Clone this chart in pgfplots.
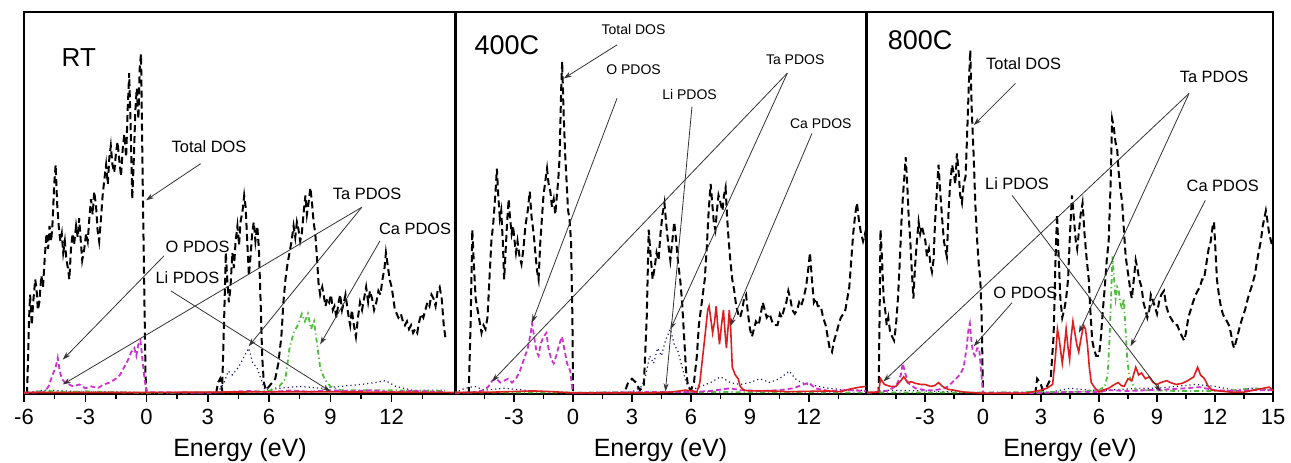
\documentclass[border=0pt]{standalone}
\usepackage{fontspec}
\setmainfont{Liberation Sans}
\usepackage{pgfplots}
\pgfplotsset{compat=1.18}
\usetikzlibrary{arrows.meta}

\definecolor{dosmag}{RGB}{204,51,204}
\definecolor{dosnavy}{RGB}{30,30,110}
\definecolor{dosgreen}{RGB}{80,190,60}
\definecolor{dosred}{RGB}{220,30,30}

\pgfplotsset{
  panel/.style={
    scale only axis, height=191pt, anchor=south west,
    ymin=0, ymax=100, ytick=\empty,
    axis line style={line width=0.9pt},
    xtick pos=bottom, tick align=outside,
    major tick length=4pt, minor tick length=2.5pt,
    tick style={black, line width=0.7pt},
    minor xtick={-4.5,-1.5,1.5,4.5,7.5,10.5,13.5},
    xlabel={Energy (eV)},
    tick label style={font=\fontsize{11}{11}\selectfont},
    label style={font=\fontsize{12.5}{13}\selectfont},
    /pgf/number format/assume math mode=true,
    clip mode=individual,
  },
  tot/.style={black, line width=1pt, dash pattern=on 3.5pt off 2pt},
  opd/.style={dosmag, line width=0.9pt, dash pattern=on 2.5pt off 1.5pt},
  lipd/.style={dosnavy, line width=0.6pt, dash pattern=on 0.6pt off 1.5pt},
  capd/.style={dosgreen, line width=0.9pt, dash pattern=on 2.5pt off 1.5pt on 0.6pt off 1.5pt},
  tapd/.style={dosred, line width=0.8pt},
}
\tikzset{
  arr/.style={black!80, line width=0.4pt, -{Stealth[length=4pt,width=2.6pt]}},
}

\begin{document}
\begin{tikzpicture}
\path[use as bounding box] (0,0) rectangle (645.5pt,231pt);

% ---------------- RT ----------------
\begin{axis}[panel, at={(12pt,34pt)}, width=216pt,
  xmin=-6, xmax=15.15, xtick={-6,-3,0,3,6,9,12}]
\addplot[tot] coordinates {
(-5.85,0) (-5.75,20) (-5.7,26) (-5.62,18) (-5.55,24) (-5.45,30) (-5.38,27) (-5.32,22) (-5.25,24) (-5.15,31) (-5.07,28) (-4.98,36) (-4.9,42) (-4.82,38) (-4.75,44) (-4.67,40) (-4.6,45) (-4.52,55) (-4.45,60) (-4.38,50) (-4.3,44) (-4.22,40) (-4.15,42) (-4.08,37) (-4.0,40) (-3.92,35) (-3.85,33) (-3.78,30) (-3.7,38) (-3.62,42) (-3.55,39) (-3.45,44) (-3.37,41) (-3.3,46) (-3.22,40) (-3.15,35) (-3.05,38) (-2.96,42) (-2.88,40) (-2.8,46) (-2.72,51) (-2.64,47) (-2.56,53) (-2.47,49) (-2.4,43) (-2.32,40) (-2.23,46) (-2.15,52) (-2.07,56) (-1.98,60) (-1.9,55) (-1.82,62) (-1.75,65) (-1.67,60) (-1.58,58) (-1.5,63) (-1.42,66) (-1.33,61) (-1.25,57) (-1.17,64) (-1.09,68) (-1.0,62) (-0.92,75) (-0.85,84) (-0.78,70) (-0.7,51) (-0.62,62) (-0.55,74) (-0.48,80) (-0.4,72) (-0.33,86) (-0.27,89) (-0.2,60) (-0.12,30) (-0.05,5) (0,0) (3.4,0) (3.5,3) (3.6,4) (3.7,1) (3.8,20) (3.88,37) (3.95,30) (4.03,24) (4.11,28) (4.2,37) (4.28,33) (4.36,40) (4.45,44) (4.53,39) (4.6,45) (4.7,48) (4.78,52) (4.85,49) (4.93,40) (5.01,31) (5.09,36) (5.17,42) (5.25,45) (5.33,40) (5.42,44) (5.5,38) (5.58,25) (5.66,10) (5.74,3) (5.85,1) (6.0,2) (6.15,3) (6.3,4) (6.45,8) (6.6,15) (6.7,24) (6.8,30) (6.9,34) (7.0,37) (7.1,40) (7.2,44) (7.28,41) (7.36,45) (7.44,43) (7.52,40) (7.6,42) (7.7,48) (7.78,52) (7.85,47) (7.93,50) (8.02,54) (8.1,50) (8.18,45) (8.26,42) (8.34,36) (8.42,29) (8.5,26) (8.6,28) (8.67,26) (8.76,23) (8.85,25) (8.94,24) (9.03,26) (9.12,22) (9.2,23) (9.3,20) (9.4,24) (9.48,26) (9.57,22) (9.66,24) (9.74,26) (9.82,23) (9.9,20) (9.97,18) (10.05,22) (10.15,18) (10.25,15) (10.35,20) (10.45,24) (10.55,22) (10.65,25) (10.75,28) (10.85,24) (10.94,27) (11.04,25) (11.14,22) (11.25,24) (11.35,27) (11.45,26) (11.55,30) (11.65,33) (11.72,37) (11.8,34) (11.9,30) (12.0,28) (12.08,25) (12.16,22) (12.25,21) (12.33,20) (12.45,21) (12.55,19) (12.65,18) (12.75,19) (12.85,17) (12.95,18) (13.05,16) (13.15,17) (13.25,16) (13.35,19) (13.45,21) (13.55,20) (13.65,22) (13.75,24) (13.85,23) (13.95,26) (14.05,25) (14.15,23) (14.25,27) (14.35,28) (14.45,25) (14.55,18) (14.65,14)
};
\addplot[lipd] coordinates {
(-6,0.3) (-5,1) (-4,0.8) (-3,0.5) (-1,0.5) (0,0.3) (3.5,0.5) (3.8,3) (4.0,6) (4.2,5) (4.5,7) (4.8,10) (5.0,12) (5.2,8) (5.4,7) (5.6,4) (5.8,1) (6.5,1.5) (7.5,2) (8.5,1.5) (9.5,2) (10.5,2.5) (11.2,3) (11.7,3.5) (12.2,2) (13,1) (14.6,1)
};
\addplot[capd] coordinates {
(-6,0.3) (-5,0.8) (-4,0.5) (-3,0.7) (-1,0.4) (0,0.3) (5,0.5) (6,0.8) (6.5,2) (6.8,4) (7.0,12) (7.2,16) (7.4,18) (7.6,21) (7.75,19) (7.9,21) (8.05,17) (8.2,19) (8.35,13) (8.5,7) (8.7,4) (9.0,2) (9.5,1) (10.5,1) (12,1) (13,0.8) (14.6,0.8)
};
\addplot[opd] coordinates {
(-6,0.3) (-5,0.5) (-4.8,2) (-4.6,5) (-4.45,7) (-4.35,9.5) (-4.25,6) (-4.15,4) (-4.0,3) (-3.8,2.5) (-3.6,2) (-3.3,2.5) (-3.0,1.5) (-2.7,2) (-2.4,1.5) (-2.1,2.5) (-1.8,3) (-1.5,4) (-1.3,5) (-1.1,7) (-0.9,9) (-0.75,11) (-0.6,12) (-0.5,10) (-0.4,13) (-0.3,14) (-0.2,9) (-0.1,4) (0,0.5) (3,0.3) (5,0.8) (6,0.5) (7,0.9) (8,0.6) (9,1) (10,0.7) (11,1) (12,0.5) (13,0.8) (14.6,0.5)
};
\addplot[tapd] coordinates {(-6,0.4) (0,0.4) (7,0.6) (15.15,0.4)};
\node[font=\fontsize{13}{13}\selectfont, anchor=west] at (axis cs:-4.5,88) {RT};
\node[font=\fontsize{8.2}{9}\selectfont] at (axis cs:3.06,64.7) {Total DOS};
\draw[arr] (axis cs:2.65,60.3) -- (axis cs:-0.03,50.7);
\node[font=\fontsize{8.2}{9}\selectfont] at (axis cs:10.8,52.4) {Ta PDOS};
\draw[arr] (axis cs:10.54,48.9) -- (axis cs:-4.1,2.5);
\draw[arr] (axis cs:10.54,48.9) -- (axis cs:5.0,12.5);
\node[font=\fontsize{8.2}{9}\selectfont] at (axis cs:13.15,43.2) {Ca PDOS};
\draw[arr] (axis cs:11.43,40.1) -- (axis cs:8.5,13);
\node[font=\fontsize{8.2}{9}\selectfont] at (axis cs:2.5,38.4) {O PDOS};
\draw[arr] (axis cs:0.86,36.2) -- (axis cs:-4.1,9.0);
\node[font=\fontsize{8.2}{9}\selectfont] at (axis cs:2.0,30.5) {Li PDOS};
\draw[arr] (axis cs:1.19,27) -- (axis cs:9.0,0.7);
\end{axis}

% ---------------- 400C ----------------
\begin{axis}[panel, at={(227.5pt,34pt)}, width=205.5pt,
  xmin=-6, xmax=14.9, xtick={-3,0,3,6,9,12}]
\addplot[tot] coordinates {
(-5.3,0) (-5.2,20) (-5.12,43) (-5.05,35) (-4.95,25) (-4.85,22) (-4.75,19) (-4.65,16) (-4.55,18) (-4.45,17) (-4.35,20) (-4.25,30) (-4.15,40) (-4.05,45) (-3.95,52) (-3.87,59) (-3.8,52) (-3.72,46) (-3.65,48) (-3.57,40) (-3.5,30) (-3.42,38) (-3.35,45) (-3.27,51) (-3.2,46) (-3.12,42) (-3.05,44) (-2.97,40) (-2.9,37) (-2.82,40) (-2.72,36) (-2.62,34) (-2.52,38) (-2.42,44) (-2.3,48) (-2.2,53) (-2.1,46) (-2.0,42) (-1.9,36) (-1.82,32) (-1.75,30) (-1.66,40) (-1.58,46) (-1.5,52) (-1.4,56) (-1.32,59) (-1.24,55) (-1.15,53) (-1.07,49) (-0.98,51) (-0.9,47) (-0.82,52) (-0.75,56) (-0.68,62) (-0.6,80) (-0.55,87) (-0.48,74) (-0.4,63) (-0.32,55) (-0.25,48) (-0.18,46) (-0.1,40) (-0.03,20) (0,0) (2.6,0) (2.8,3) (3.0,4) (3.2,3) (3.4,1) (3.6,2) (3.75,20) (3.85,43) (3.95,36) (4.05,30) (4.15,33) (4.25,37) (4.35,35) (4.45,42) (4.55,47) (4.65,50) (4.75,44) (4.85,39) (4.95,35) (5.05,40) (5.15,45) (5.25,40) (5.35,34) (5.45,30) (5.55,24) (5.65,15) (5.75,6) (5.85,2) (6.0,1) (6.15,3) (6.3,10) (6.4,18) (6.5,22) (6.6,26) (6.7,30) (6.8,38) (6.9,48) (7.0,55) (7.08,50) (7.16,45) (7.24,43) (7.32,48) (7.4,52) (7.5,50) (7.6,48) (7.68,52) (7.76,54) (7.84,46) (7.92,40) (8.0,35) (8.1,30) (8.2,27) (8.3,23) (8.4,21) (8.5,20) (8.6,22) (8.7,25) (8.8,26) (8.9,21) (9.0,17) (9.1,15) (9.2,17) (9.3,19) (9.44,18) (9.55,21) (9.65,24) (9.75,22) (9.85,20) (10.0,21) (10.12,19) (10.25,18) (10.4,18) (10.52,21) (10.62,20) (10.72,22) (10.85,24) (10.95,27) (11.05,25) (11.15,22) (11.28,21) (11.4,22) (11.5,24) (11.6,23) (11.72,25) (11.85,28) (11.95,32) (12.05,37) (12.15,30) (12.25,24) (12.35,25) (12.45,23) (12.6,23) (12.72,20) (12.85,18) (12.95,15) (13.05,12) (13.17,11) (13.28,14) (13.4,16) (13.5,18) (13.62,20) (13.75,21) (13.85,22) (13.95,25) (14.05,28) (14.15,35) (14.25,42) (14.35,47) (14.44,50) (14.55,45) (14.65,42) (14.75,40) (14.85,42) (14.9,40)
};
\addplot[lipd] coordinates {
(-6,0.3) (-5.5,1.5) (-5,2) (-4.5,1) (-3.5,1.5) (-2,0.8) (0,0.3) (3,0.5) (3.5,2) (3.7,5) (3.9,10) (4.1,8) (4.3,12) (4.5,10) (4.7,14) (4.95,17) (5.15,13) (5.35,11) (5.55,7) (5.75,3) (6.0,1) (6.5,2) (7.0,3) (7.5,4.5) (8.0,3) (8.5,2.5) (9.0,3) (9.5,4) (10,3) (10.5,4) (11,6) (11.3,4) (11.6,3) (12,2.5) (12.5,2) (13,1.5) (14,1) (14.9,1)
};
\addplot[capd] coordinates {(-6,0.4) (0,0.4) (7,0.5) (14.9,0.4)};
\addplot[opd] coordinates {
(-6,0.3) (-5,0.5) (-4.5,1) (-4.3,2) (-4.1,3.5) (-3.9,4) (-3.7,3) (-3.5,3.5) (-3.3,4) (-3.1,3) (-2.9,4) (-2.7,6) (-2.5,9) (-2.3,12) (-2.15,16) (-2.08,18.5) (-1.95,14) (-1.85,11) (-1.75,10) (-1.65,13) (-1.5,15) (-1.35,16) (-1.25,12) (-1.1,9) (-0.98,8) (-0.85,10) (-0.7,13) (-0.56,15) (-0.45,12) (-0.3,8) (-0.14,6) (-0.05,2) (0,0.3) (4,0.5) (6,0.5) (7,0.8) (8,1.5) (8.5,1) (9.5,0.8) (10.5,1) (11.2,1.5) (12,3) (12.3,1.5) (13,0.8) (14,1) (14.9,0.8)
};
\addplot[tapd] coordinates {
(-6,0.4) (-4,0.5) (-2,0.8) (-1,0.6) (0,0.3) (4,0.3) (5,0.5) (5.7,1) (6.1,0.8) (6.3,0.5) (6.45,3) (6.6,10) (6.75,17) (6.85,22) (6.92,23) (7.0,20) (7.1,16) (7.2,19) (7.28,23) (7.36,18) (7.45,13) (7.55,18) (7.65,22) (7.72,17) (7.8,12) (7.88,17) (7.95,22) (8.02,17) (8.1,7) (8.25,5) (8.4,4) (8.5,2) (8.7,1) (9.0,0.8) (10,0.8) (11,0.6) (12,0.7) (13,0.8) (13.6,0.6) (14,1.2) (14.3,1.5) (14.6,1.8) (14.9,2)
};
\node[font=\fontsize{13.5}{14}\selectfont] at (axis cs:-3.36,91.4) {400C};
\node[font=\fontsize{7}{8}\selectfont] at (axis cs:3.08,95.4) {Total DOS};
\draw[arr] (axis cs:2.24,91.4) -- (axis cs:-0.47,82.6);
\node[font=\fontsize{7}{8}\selectfont] at (axis cs:3.08,84.8) {O PDOS};
\draw[arr] (axis cs:2.24,77.4) -- (axis cs:-2.08,18.7);
\node[font=\fontsize{7}{8}\selectfont] at (axis cs:5.93,78.3) {Li PDOS};
\draw[arr] (axis cs:6.05,75.2) -- (axis cs:4.7,0.7);
\node[font=\fontsize{7}{8}\selectfont] at (axis cs:11.3,87.5) {Ta PDOS};
\draw[arr] (axis cs:10.9,84) -- (axis cs:-4.12,3.3);
\draw[arr] (axis cs:10.9,84) -- (axis cs:4.95,16.9);
\node[font=\fontsize{7}{8}\selectfont] at (axis cs:12.6,70.8) {Ca PDOS};
\draw[arr] (axis cs:12.15,68.2) -- (axis cs:8.0,17.8);
\end{axis}

% ---------------- 800C ----------------
\begin{axis}[panel, at={(433.5pt,34pt)}, width=203pt,
  xmin=-6, xmax=15, xtick={-3,0,3,6,9,12,15}]
\addplot[tot] coordinates {
(-5.4,0) (-5.35,20) (-5.3,43) (-5.22,35) (-5.14,25) (-5.06,22) (-4.98,18) (-4.9,20) (-4.8,16) (-4.7,15) (-4.6,14) (-4.5,18) (-4.4,25) (-4.3,35) (-4.22,45) (-4.14,52) (-4.05,58) (-4.0,62) (-3.92,55) (-3.85,47) (-3.76,40) (-3.68,32) (-3.6,25) (-3.52,33) (-3.42,40) (-3.33,45) (-3.25,42) (-3.17,44) (-3.07,42) (-2.98,40) (-2.9,36) (-2.8,38) (-2.72,34) (-2.64,32) (-2.56,35) (-2.48,45) (-2.4,52) (-2.3,60) (-2.2,52) (-2.1,45) (-2.02,40) (-1.95,38) (-1.87,36) (-1.78,48) (-1.7,55) (-1.6,60) (-1.52,58) (-1.43,55) (-1.35,63) (-1.26,58) (-1.18,52) (-1.09,50) (-1.0,55) (-0.9,57) (-0.82,68) (-0.74,80) (-0.66,90) (-0.58,74) (-0.48,62) (-0.4,50) (-0.3,40) (-0.22,34) (-0.14,30) (-0.07,20) (0,0) (2.7,0) (2.8,4) (2.95,3) (3.1,1) (3.3,2) (3.5,4) (3.65,15) (3.75,35) (3.83,47) (3.92,35) (4.0,25) (4.1,20) (4.2,22) (4.3,25) (4.4,30) (4.5,42) (4.6,52) (4.7,46) (4.8,40) (4.87,38) (4.95,42) (5.05,47) (5.15,50) (5.25,42) (5.35,36) (5.47,30) (5.55,22) (5.65,14) (5.73,12) (5.85,10) (6.0,10) (6.1,15) (6.2,22) (6.3,28) (6.4,35) (6.5,40) (6.6,55) (6.68,72) (6.76,70) (6.85,66) (6.94,64) (7.02,58) (7.1,54) (7.2,50) (7.3,42) (7.38,36) (7.46,33) (7.55,30) (7.62,27) (7.7,25) (7.8,30) (7.9,35) (7.98,33) (8.08,30) (8.2,28) (8.3,24) (8.4,22) (8.5,20) (8.6,22) (8.68,26) (8.76,25) (8.88,23) (9.0,21) (9.1,24) (9.22,26) (9.36,27) (9.48,23) (9.6,21) (9.7,20) (9.82,19) (9.95,18) (10.05,18) (10.2,16) (10.3,15) (10.4,14) (10.5,16) (10.62,20) (10.74,22) (10.86,24) (11.0,26) (11.1,27) (11.22,28) (11.33,30) (11.43,30) (11.55,34) (11.67,38) (11.78,40) (11.88,44) (11.95,45) (12.02,38) (12.1,30) (12.2,26) (12.3,23) (12.4,21) (12.5,20) (12.62,19) (12.72,18) (12.82,16) (12.92,13) (13.0,12) (13.1,14) (13.2,16) (13.3,18) (13.42,20) (13.55,22) (13.7,25) (13.82,27) (13.95,29) (14.05,31) (14.15,34) (14.25,37) (14.37,40) (14.47,44) (14.55,46) (14.63,48) (14.72,45) (14.8,42) (14.9,40) (15,38)
};
\addplot[lipd] coordinates {
(-6,0.3) (-5,1) (-3,0.8) (0,0.3) (3.5,0.5) (4.5,1.5) (5.5,1) (6.5,1) (8,1.5) (9,1.5) (10,2) (11,2.5) (12,2) (13,1) (14,1.5) (15,1)
};
\addplot[capd] coordinates {
(-6,0.4) (0,0.4) (5,0.6) (6.0,1) (6.3,2) (6.45,5) (6.55,15) (6.62,25) (6.7,36) (6.78,30) (6.86,25) (6.94,28) (7.02,27) (7.1,24) (7.2,22) (7.28,25) (7.36,18) (7.45,10) (7.55,5) (7.7,3) (7.9,1) (8.5,1) (10,0.8) (12,0.8) (13,1) (14,1.5) (15,1)
};
\addplot[opd] coordinates {
(-6,0.3) (-5,0.8) (-4.5,2) (-4.25,5) (-4.15,8) (-4.05,6) (-3.9,3) (-3.5,1.5) (-3,1) (-2.5,1) (-2,1.5) (-1.8,2) (-1.6,3) (-1.4,4) (-1.2,5) (-1.0,7) (-0.85,12) (-0.75,17) (-0.68,18.5) (-0.6,14) (-0.52,11) (-0.42,10) (-0.3,12) (-0.2,12) (-0.1,6) (0,0.3) (3,0.3) (5,0.6) (6,0.5) (6.5,1) (7.5,0.8) (8.5,1) (9.5,1.2) (10.5,1.5) (11.2,1.8) (12,1) (13,0.8) (14,1) (15,1)
};
\addplot[tapd] coordinates {
(-6,0.4) (-5.4,0.5) (-5.3,4) (-5.1,2.5) (-4.8,2) (-4.5,2) (-4.25,3.5) (-4.1,4.5) (-3.9,3) (-3.7,3.2) (-3.5,2.8) (-3.2,2.5) (-3,2.5) (-2.7,2) (-2.5,2.2) (-2.3,3) (-2.1,2) (-1.8,1.2) (-1.5,1) (-1,0.5) (-0.3,0.3) (0,0.2) (2.2,0.2) (2.5,0.5) (3.0,1) (3.3,1.5) (3.6,2.5) (3.75,10) (3.85,17) (3.95,14) (4.1,8) (4.2,12) (4.3,17) (4.4,12) (4.48,9) (4.56,15) (4.65,19) (4.75,16) (4.85,13) (4.95,11) (5.05,14) (5.2,18) (5.3,17) (5.4,13) (5.5,7) (5.6,3) (5.8,1.5) (6.0,0.5) (6.2,1) (6.5,1.5) (6.8,2.5) (7.0,3) (7.15,2.2) (7.3,2) (7.5,4) (7.7,3.5) (7.9,7) (8.05,5) (8.2,5.5) (8.4,4) (8.6,4.5) (8.8,3) (9.0,2.5) (9.2,3) (9.5,3.5) (9.7,3) (10,2.5) (10.3,2.8) (10.6,3.5) (10.9,4.5) (11.1,7) (11.25,5) (11.45,4) (11.65,2) (11.85,1) (12.2,0.8) (12.8,0.5) (13.5,0.5) (14,1) (14.5,1.5) (14.8,1.8) (15,1)
};
\node[font=\fontsize{13.5}{14}\selectfont] at (axis cs:-3.25,92.7) {800C};
\node[font=\fontsize{8.2}{9}\selectfont] at (axis cs:2.1,86.6) {Total DOS};
\draw[arr] (axis cs:1.68,81.3) -- (axis cs:-0.48,70.4);
\node[font=\fontsize{8.2}{9}\selectfont] at (axis cs:11.95,83.1) {Ta PDOS};
\draw[arr] (axis cs:10.66,78.7) -- (axis cs:-5.15,3.3);
\draw[arr] (axis cs:10.66,78.7) -- (axis cs:4.96,16);
\node[font=\fontsize{8.2}{9}\selectfont] at (axis cs:1.76,55) {Li PDOS};
\draw[arr] (axis cs:1.5,52) -- (axis cs:9.19,0.7);
\node[font=\fontsize{8.2}{9}\selectfont] at (axis cs:12.4,54.6) {Ca PDOS};
\draw[arr] (axis cs:11.5,50.7) -- (axis cs:7.63,12.5);
\node[font=\fontsize{8.2}{9}\selectfont] at (axis cs:2.19,26.6) {O PDOS};
\draw[arr] (axis cs:1.5,23.9) -- (axis cs:-0.48,12.5);
\end{axis}
\end{tikzpicture}
\end{document}
